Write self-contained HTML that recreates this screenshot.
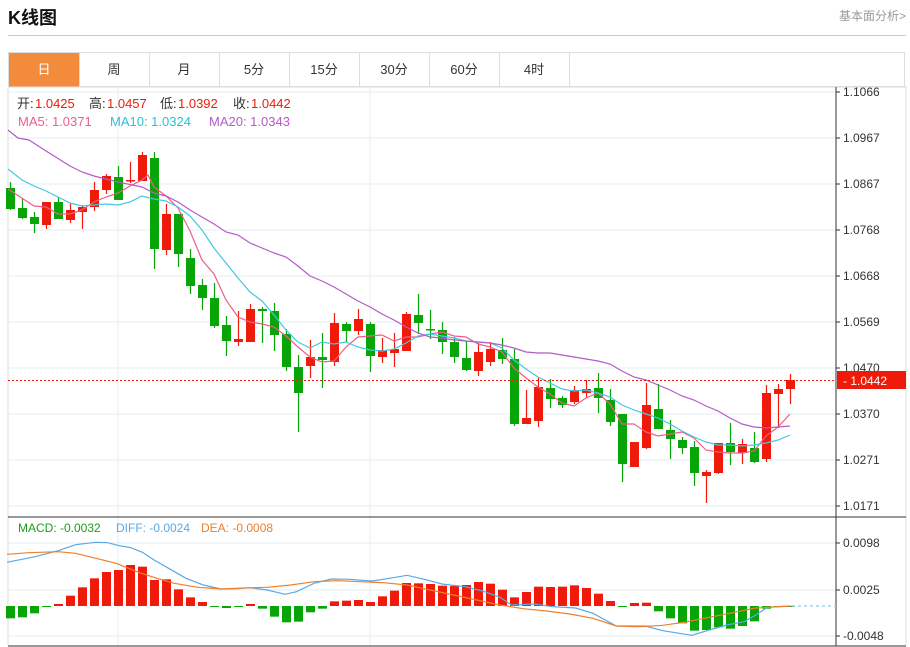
<!DOCTYPE html>
<html><head><meta charset="utf-8"><style>
body{margin:0;width:910px;height:647px;background:#fff;font-family:"Liberation Sans","Noto Sans CJK SC",sans-serif;overflow:hidden;position:relative}
.t{position:absolute;left:8px;top:4px;font-size:18px;font-weight:bold;color:#111}
.r{position:absolute;right:4px;top:7px;font-size:12px;color:#999}
.hl{position:absolute;left:8px;top:35px;width:898px;height:1px;background:#ccc}
.tabs{position:absolute;left:8px;top:52px;width:897px;height:35px;border:1px solid #ddd;box-sizing:border-box}
.tab{position:absolute;top:0;height:34px;width:70px;border-right:1px solid #ddd;text-align:center;line-height:34px;font-size:13px;color:#333}
svg{position:absolute;left:0;top:0}
</style></head><body>
<div class="t">K线图</div><div class="r">基本面分析&gt;</div><div class="hl"></div>
<div class="tabs">
<div class="tab" style="left:0;background:#f28c3c;color:#fff">日</div>
<div class="tab" style="left:70px">周</div>
<div class="tab" style="left:140px">月</div>
<div class="tab" style="left:210px">5分</div>
<div class="tab" style="left:280px">15分</div>
<div class="tab" style="left:350px">30分</div>
<div class="tab" style="left:420px">60分</div>
<div class="tab" style="left:490px">4时</div>
</div>
<svg id="s" width="910" height="647" xmlns="http://www.w3.org/2000/svg" font-family="Liberation Sans, Noto Sans CJK SC, sans-serif" font-size="12"></svg>
<script>
var s=document.getElementById('s'),h='';
function L(x1,y1,x2,y2,c,w,d){h+='<line x1="'+x1+'" y1="'+y1+'" x2="'+x2+'" y2="'+y2+'" stroke="'+c+'" stroke-width="'+(w||1)+'"'+(d?' stroke-dasharray="'+d+'"':'')+'/>';}
function T(x,y,t,c,a,fs){h+='<text x="'+x+'" y="'+y+'" fill="'+(c||'#333')+'"'+(a?' text-anchor="'+a+'"':'')+(fs?' font-size="'+fs+'"':'')+'>'+t+'</text>';}
function P(pts,c){h+='<polyline fill="none" stroke="'+c+'" stroke-width="1.2" points="'+pts.map(function(p){return p[0]+','+p[1]}).join(' ')+'"/>';}
L(8,87,8,646,'#ddd');L(906,87,906,646,'#ddd');L(8,87,906,87,'#ddd');
var py=[92,138,184,230,276,322,368,414,460,506],pl=['1.1066','1.0967','1.0867','1.0768','1.0668','1.0569','1.0470','1.0370','1.0271','1.0171'];
py.forEach(function(y,i){L(8,y,836,y,'#e3edf3');L(836,y,840,y,'#333');T(843,y+4,pl[i]);});
[[543,'0.0098'],[590,'0.0025'],[636,'-0.0048']].forEach(function(a){L(8,a[0],836,a[0],'#e3edf3');L(836,a[0],840,a[0],'#333');T(843,a[0]+4,a[1]);});
L(118,87,118,646,'#e3edf3');L(370,87,370,646,'#e3edf3');
L(836,87,836,646,'#333');L(8,517,906,517,'#333');L(8,646,906,646,'#333');
var C=[[188,209,182,210,'G'],[208,218,198,219,'G'],[217,224,212,233,'G'],[202,225,202,229,'R'],[202,219,197,219,'G'],[210,220,203,223,'R'],[207,212,205,229,'R'],[190,207,182,211,'R'],[176,190,174,194,'R'],[177,200,166,200,'G'],[180,181,162,183,'R'],[155,181,152,181,'R'],[158,249,152,269,'G'],[214,250,204,255,'R'],[214,254,214,267,'G'],[258,286,249,294,'G'],[285,298,279,310,'G'],[298,326,283,328,'G'],[325,341,316,356,'G'],[339,342,311,346,'R'],[309,342,304,342,'R'],[309,311,307,343,'G'],[311,335,303,351,'G'],[334,367,329,371,'G'],[367,393,355,432,'G'],[357,366,340,378,'R'],[357,360,333,388,'G'],[323,362,313,366,'R'],[324,331,322,342,'G'],[319,331,309,335,'R'],[324,356,322,372,'G'],[350,357,338,363,'R'],[349,353,333,367,'R'],[314,351,312,351,'R'],[315,323,294,334,'G'],[329,330,310,339,'G'],[330,342,322,354,'G'],[342,357,337,363,'G'],[358,370,341,371,'G'],[352,371,343,376,'R'],[349,362,342,366,'R'],[350,359,338,364,'G'],[359,424,349,426,'G'],[418,424,390,424,'R'],[387,421,378,427,'R'],[388,399,379,408,'G'],[398,405,396,408,'G'],[390,402,386,404,'R'],[389,393,380,398,'R'],[388,398,373,413,'G'],[400,422,389,426,'G'],[414,464,414,482,'G'],[442,467,442,467,'R'],[405,448,383,449,'R'],[409,429,384,429,'G'],[430,439,420,459,'G'],[440,448,437,454,'G'],[447,473,441,486,'G'],[472,476,470,503,'R'],[443,473,443,474,'R'],[443,452,423,465,'G'],[444,453,439,464,'R'],[448,462,432,463,'G'],[393,459,385,462,'R'],[389,394,384,428,'R'],[380,389,374,404,'R']];
C.forEach(function(c,i){var x=10+12*i,col=c[4]=='R'?'#f01a0a':'#08a508';L(x+.5,c[2],x+.5,c[3],col,1.2);h+='<rect x="'+(x-4)+'" y="'+c[0]+'" width="9" height="'+Math.max(1.5,c[1]-c[0])+'" fill="'+col+'"/>';});
P([[8,189],[34,206],[46,207],[58,214],[70,214],[82,210],[94,202],[106,197],[118,193],[130,186],[142,180],[148,175],[154,187],[166,196],[178,208],[190,231],[202,260],[214,274],[226,300],[238,317],[250,322],[262,324],[274,327],[286,336],[298,347],[310,357],[322,362],[334,361],[346,347],[358,337],[370,336],[382,335],[394,341],[406,337],[418,337],[430,334],[442,332],[454,336],[466,337],[478,344],[490,347],[502,352],[514,368],[526,378],[538,387],[550,394],[562,403],[574,406],[586,398],[598,393],[610,404],[622,424],[634,424],[646,432],[658,436],[670,434],[682,432],[694,438],[706,450],[718,452],[730,453],[742,453],[754,451],[766,436],[778,427],[790,414]],'#ec5f88');
P([[8,169],[22,180],[34,186],[46,191],[58,197],[70,203],[82,206],[94,205],[106,204],[118,205],[130,202],[142,196],[154,199],[166,201],[178,207],[190,216],[202,230],[214,248],[226,263],[238,278],[250,292],[262,301],[274,315],[286,330],[298,342],[310,348],[322,342],[334,344],[346,342],[358,347],[370,350],[382,351],[394,349],[406,343],[418,336],[430,334],[442,336],[454,338],[466,341],[478,342],[490,343],[502,348],[514,360],[526,369],[538,377],[550,383],[562,389],[574,391],[586,390],[598,393],[610,397],[622,405],[634,410],[646,414],[658,418],[670,424],[682,431],[694,437],[706,442],[718,445],[730,445],[742,446],[754,445],[766,443],[778,440],[790,435]],'#45c8e2');
P([[8,130],[18,138],[29,140],[46,151],[70,166],[82,172],[94,176],[118,182],[142,187],[154,193],[166,196],[178,202],[190,210],[202,217],[214,224],[226,232],[238,235],[250,243],[262,248],[274,253],[286,257],[298,266],[310,276],[322,281],[334,287],[346,294],[358,301],[370,307],[382,314],[394,320],[406,327],[418,333],[430,337],[442,338],[454,340],[466,341],[490,343],[502,345],[514,348],[526,352],[538,353],[550,353],[562,355],[574,357],[586,359],[598,361],[610,364],[622,371],[634,377],[646,380],[658,385],[670,390],[682,396],[694,400],[706,406],[718,411],[730,418],[742,424],[754,427],[766,428],[778,427],[790,426]],'#b45bc8');
L(8,380.5,836,380.5,'#f01a0a',1,'2,2');
h+='<rect x="837" y="371" width="69" height="18" fill="#f01a0a"/>';T(843,385,'- 1.0442','#fff');
T(17,108,'开:','#333',0,13);T(35,108,'1.0425','#f01a0a',0,13);
T(89,108,'高:','#333',0,13);T(107,108,'1.0457','#f01a0a',0,13);
T(160,108,'低:','#333',0,13);T(178,108,'1.0392','#f01a0a',0,13);
T(233,108,'收:','#333',0,13);T(251,108,'1.0442','#f01a0a',0,13);
T(18,126,'MA5: 1.0371','#ec5f88',0,13);T(110,126,'MA10: 1.0324','#2cc0d8',0,13);T(209,126,'MA20: 1.0343','#b45bc8',0,13);
T(18,532,'MACD: -0.0032','#1aa01a');T(116,532,'DIFF: -0.0024','#5aa9e6');T(201,532,'DEA: -0.0008','#f07f2a');
var M=[325,322,310,290,282,257,232,205,186,180,165,170,210,208,238,262,276,290,294,290,282,296,320,337,335,307,296,274,272,270,276,259,242,219,220,222,227,228,225,216,221,239,262,246,230,231,230,226,234,251,273,290,279,278,304,325,340,362,360,352,356,348,334,296,290,288];
var z=606;M.forEach(function(v,i){var y=510+v/3,x=10+12*i,col=y<z?'#f01a0a':'#08a508';var t=Math.min(y,z),hh=Math.max(1,Math.abs(y-z));h+='<rect x="'+(x-4)+'" y="'+t+'" width="9" height="'+hh+'" fill="'+col+'"/>';});
function cv(a){return a.map(function(p){return [(p[0]/1.72).toFixed(1),(510+p[1]/3).toFixed(1)]});}
P(cv([[12,157],[60,140],[100,122],[130,104],[165,97],[185,98],[205,107],[225,113],[245,127],[265,150],[290,175],[320,205],[350,225],[380,237],[410,236],[430,233],[460,240],[490,253],[510,245],[540,220],[570,207],[600,208],[640,213],[670,205],[700,196],[730,208],[760,222],[800,230],[830,243],[860,262],[880,285],[920,282],[950,290],[990,294],[1020,310],[1060,348],[1080,348],[1110,348],[1140,362],[1190,376],[1220,360],[1250,345],[1280,335],[1300,315],[1320,292],[1360,288]]),'#5aa9e6');
P(cv([[12,133],[50,128],[100,125],[130,130],[165,145],[200,160],[240,188],[270,205],[300,220],[340,232],[380,237],[420,234],[460,232],[500,225],[540,215],[580,212],[620,215],[660,218],[700,225],[740,240],[780,255],[820,270],[860,285],[900,296],[940,303],[980,312],[1020,325],[1060,348],[1100,350],[1140,346],[1180,336],[1220,322],[1260,308],[1300,294],[1360,288]]),'#f07f2a');
L(792,606,836,606,'#9fd6ea',1.5,'3,3');
s.innerHTML=h;
</script>
</body></html>
